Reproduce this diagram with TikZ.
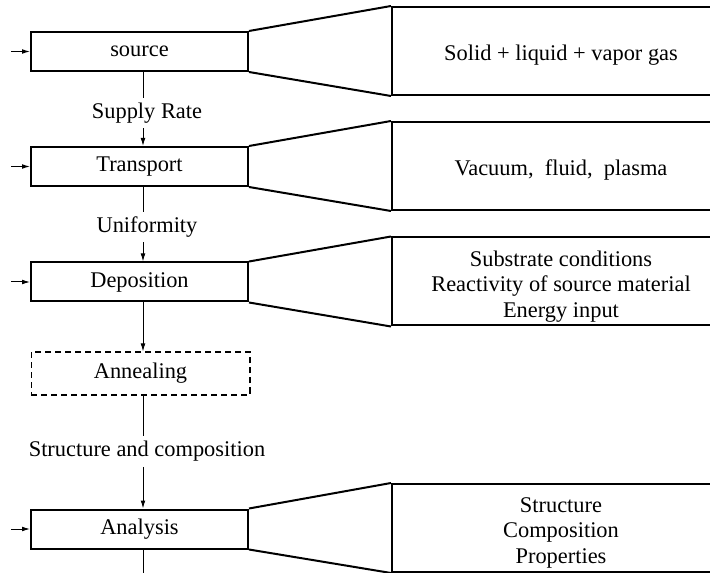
\documentclass[tikz,border=0pt]{standalone}
\usepackage{fontspec}
\setmainfont{Liberation Serif}
\usetikzlibrary{arrows.meta}
\tikzset{every picture/.style={line width=0.75pt}}

\begin{document}
\begin{tikzpicture}[x=0.75pt,y=0.75pt,yscale=-1,xscale=1,
    stage/.style={draw,line width=1.5pt,minimum width=162.75pt,minimum height=29.25pt,inner sep=0pt,font=\fontsize{16.8}{19}\selectfont},
    detail/.style={draw,line width=1.5pt,minimum width=253.5pt,minimum height=66pt,inner sep=0pt,align=center,text height=18pt,text depth=3.6pt,font=\fontsize{16.8}{19}\selectfont},
    threelines/.style={text height=#1,text depth=3.6pt},
    flowlabel/.style={inner sep=0pt,text height=11.5pt,text depth=3.6pt,outer sep=4pt,font=\fontsize{16.8}{19}\selectfont},
    feed/.style={-{Latex[length=6pt,width=3.6pt]}},
    >={Latex[length=6pt,width=3.6pt]}]
\useasboundingbox (0,0) rectangle (710,573);
\clip (0,0) rectangle (710,573);

% stages on the left
\node[stage] (src) at (139.5,51.5) {source};
\node[stage] (trn) at (139.5,166.5) {Transport};
\node[stage] (dep) at (139.5,282) {Deposition};
\node[stage,dash pattern={on 4.5pt off 3pt},line width=1pt,minimum width=164pt,minimum height=32pt] (ann) at (140.5,373.5) {Annealing};
\node[stage] (ana) at (139.5,529) {Analysis};

% what each stage depends on
\node[detail] (srcD) at (561,51) {Solid + liquid + vapor gas};
\node[detail] (trnD) at (561,166) {Vacuum,\enspace fluid,\enspace plasma};
\node[detail,threelines=57.2pt] (depD) at (561,281.5) {Substrate conditions\\Reactivity of source material\\Energy input};
\node[detail,threelines=56.1pt] (anaD) at (561,528) {Structure\\Composition\\Properties};

% labels on the main line
\node[flowlabel] (supply) at (147,113) {Supply Rate};
\node[flowlabel] (unif) at (147,227) {Uniformity};
\node[flowlabel] (struct) at (147,451.5) {Structure and composition};

\coordinate (spine) at (143,0);
\coordinate (out) at (143,580);

% main line
\draw (src.south -| spine) -- (supply.north -| spine);
\draw[->] (supply.south -| spine) -- (trn.north -| spine);
\draw (trn.south -| spine) -- (unif.north -| spine);
\draw[->] (unif.south -| spine) -- (dep.north -| spine);
\draw[->] (dep.south -| spine) -- (ann.north -| spine);
\draw (ann.south -| spine) -- (struct.north -| spine);
\draw[->] (struct.south -| spine) -- (ana.north -| spine);
\draw (ana.south -| spine) -- (out);

% inputs from the left
\foreach \s in {src,trn,dep,ana}{
  \coordinate (in\s) at ([xshift=-14.25pt]\s.west);
  \draw[feed] (in\s) -- (\s.west);
}

% fans to the detail boxes
\foreach \s in {src,trn,dep,ana}{
  \draw[line width=1.5pt] (\s.north east) -- (\s D.north west);
  \draw[line width=1.5pt] (\s.south east) -- (\s D.south west);
}

\end{tikzpicture}
\end{document}
